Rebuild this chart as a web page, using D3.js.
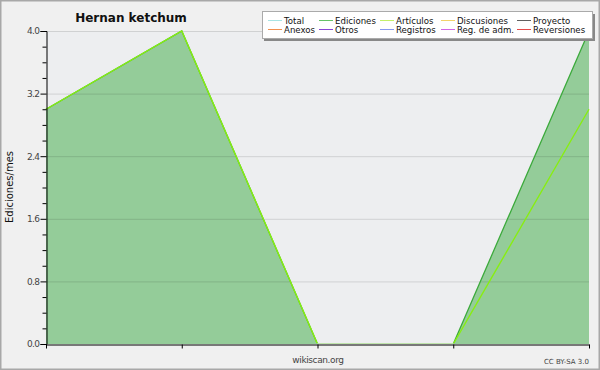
<!DOCTYPE html>
<html><head><meta charset="utf-8">
<script src="https://cdn.jsdelivr.net/npm/d3@7"></script>
<style>
html,body{margin:0;padding:0;background:#f0f0f0;}
svg{display:block;font-family:"DejaVu Sans",sans-serif;}
</style></head>
<body>
<script>
const months = [0, 1, 2, 3, 4];
const ediciones = [3, 4, 0, 0, 4];
const articulos = [3, 4, 0, 0, 3];
const yTicks = [0, 0.8, 1.6, 2.4, 3.2, 4.0];
const yMinor = [0.2,0.4,0.6,1.0,1.2,1.4,1.8,2.0,2.2,2.6,2.8,3.0,3.4,3.6,3.8];
const legendRow1 = ["Total","Ediciones","Artículos","Discusiones","Proyecto"];
const legendRow2 = ["Anexos","Otros","Registros","Reg. de adm.","Reversiones"];
const legendCol1 = ["#a8e4e4","#66c266","#c4f06a","#f2d36a","#606060"];
const legendCol2 = ["#f29050","#8a44d4","#8898f0","#d266e6","#e44a4a"];
const title = "Hernan ketchum";

const W = 600, H = 370;
const svg = d3.select("body").append("svg").attr("width", W).attr("height", H);
svg.append("rect").attr("x",0.5).attr("y",0.5).attr("width",W-1).attr("height",H-1)
  .attr("fill","#f0f0f0").attr("stroke","#a8a8a8").attr("stroke-width",2);

const x = d3.scaleLinear().domain([0,4]).range([46,589]);
const y = d3.scaleLinear().domain([0,4]).range([344,31]);

svg.append("defs").append("clipPath").attr("id","clip")
  .append("rect").attr("x",40).attr("y",20).attr("width",560).attr("height",323.3);

svg.append("rect").attr("x",46).attr("y",31).attr("width",543).attr("height",313).attr("fill","#edeef0");

const pts = months.map((m,i)=>({m, e: ediciones[i], a: articulos[i]}));
svg.append("path").datum(pts)
  .attr("d", d3.area().x(d=>x(d.m)).y0(y(0)).y1(d=>y(d.e)))
  .attr("fill","#94cc99");

// grid
svg.append("g").selectAll("line").data(yTicks.filter(t=>t>0)).join("line")
  .attr("x1",46).attr("x2",589).attr("y1",d=>y(d)+0.5).attr("y2",d=>y(d)+0.5)
  .attr("stroke","rgba(0,0,0,0.12)").attr("stroke-width",1);

const series = svg.append("g").attr("clip-path","url(#clip)");
series.append("path").datum(pts)
  .attr("d", d3.line().x(d=>x(d.m)).y(d=>y(d.e)))
  .attr("fill","none").attr("stroke","#3caa3c").attr("stroke-width",1.3);
series.append("path").datum(pts)
  .attr("d", d3.line().x(d=>x(d.m)).y(d=>y(d.a)))
  .attr("fill","none").attr("stroke","#88ee11").attr("stroke-width",1.4);

// y axis
const yAxis = d3.axisLeft(y).tickValues(yTicks).tickFormat(d3.format(".1f")).tickSize(6).tickPadding(1);
const gy = svg.append("g").attr("transform","translate(46.5,0)").call(yAxis);
gy.selectAll("text").attr("font-size",9).attr("fill","#444").attr("font-family","DejaVu Sans").attr("letter-spacing","-0.6");
gy.select(".domain").attr("stroke","#000");
const gyMinor = svg.append("g").attr("transform","translate(46.5,0)")
  .call(d3.axisLeft(y).tickValues(yMinor).tickFormat("").tickSize(4));
gyMinor.select(".domain").remove();

// x axis
const gx = svg.append("g").attr("transform","translate(0,344.5)")
  .call(d3.axisBottom(x).tickValues(months).tickFormat("").tickSize(4).tickSizeOuter(0));
gx.select(".domain").attr("stroke","#000").attr("stroke-width",1.2);

// title
svg.append("text").attr("x",131).attr("y",22).attr("text-anchor","middle")
  .attr("font-size",12).attr("font-weight","bold").attr("fill","#111").text(title);

svg.append("text").attr("transform","translate(13,187) rotate(-90)").attr("text-anchor","middle")
  .attr("font-size",10).attr("fill","#111").text("Ediciones/mes");

svg.append("text").attr("x",318).attr("y",363).attr("text-anchor","middle")
  .attr("font-size",9).attr("fill","#444").attr("letter-spacing","-0.4").text("wikiscan.org");
svg.append("text").attr("x",589).attr("y",364).attr("text-anchor","end")
  .attr("font-size",7).attr("fill","#444").text("CC BY-SA 3.0");

// legend
const lg = svg.append("g");
lg.append("rect").attr("x",264).attr("y",14).attr("width",331).attr("height",27).attr("fill","#888");
lg.append("rect").attr("x",262.5).attr("y",11.5).attr("width",330).attr("height",27)
  .attr("fill","#fff").attr("stroke","#aaa");
const colX = [268, 319, 380, 441, 517];
const rows = [[legendRow1, legendCol1, 20.5],[legendRow2, legendCol2, 29.5]];
rows.forEach(([names, cols, ry])=>{
  names.forEach((n,i)=>{
    lg.append("line").attr("x1",colX[i]).attr("x2",colX[i]+14).attr("y1",ry).attr("y2",ry)
      .attr("stroke",cols[i]).attr("stroke-width",1);
    lg.append("text").attr("x",colX[i]+16).attr("y",ry+3).attr("font-size",8.6)
      .attr("fill","#111").text(n);
  });
});
</script>
</body></html>
